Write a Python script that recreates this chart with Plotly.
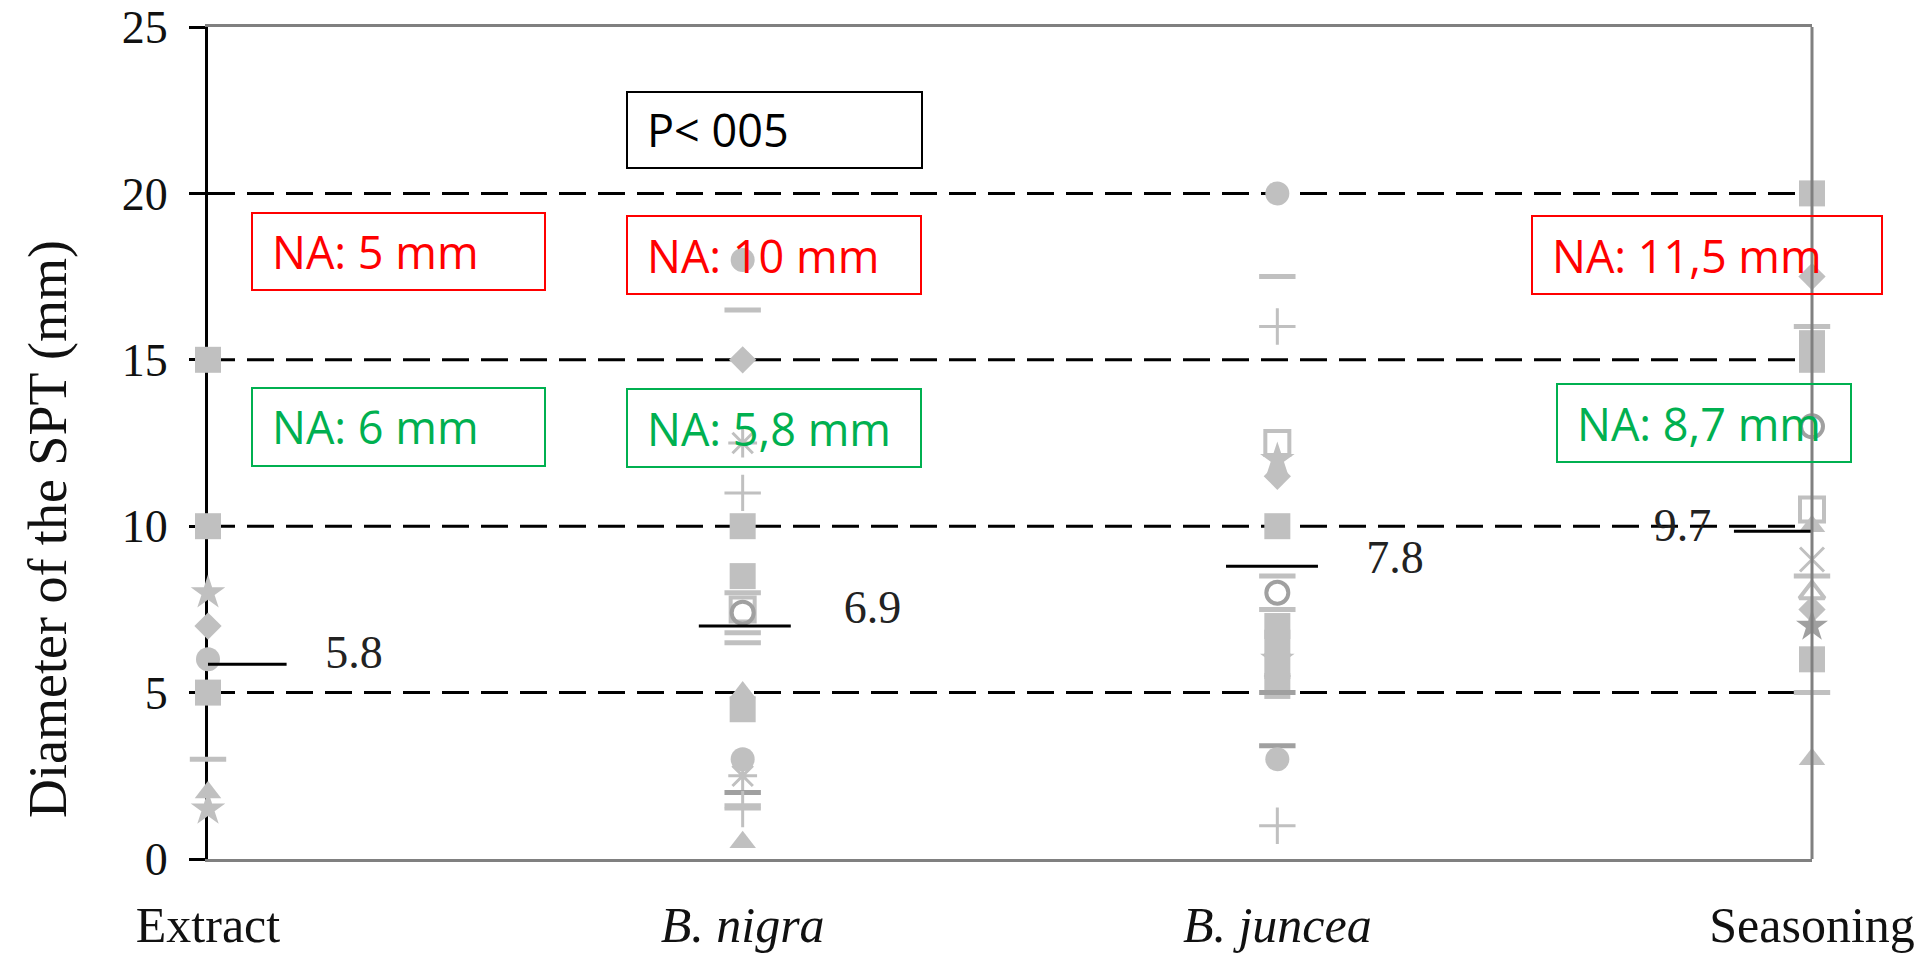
import plotly.graph_objects as go

# ---------------- data ----------------
categories = ["Extract", "B. nigra", "B. juncea", "Seasoning"]
italic_category = [False, True, True, False]

extract_values = [15, 10, 8, 7, 6, 5, 3, 2, 1.5]
extract_markers = ["square", "square", "star", "diamond", "circle", "square", "dash", "triangle", "star"]

nigra_values = [18, 16.5, 15, 12.5, 11, 10, 8.5, 8, 7.5, 7.4, 6.8, 6.5, 5, 4.5, 3, 2.5, 2, 1.6, 1.5, 0.5]
nigra_markers = ["circle", "dash", "diamond", "asterisk", "plus", "square", "square", "dash",
                 "open_square", "open_circle", "dash", "dash", "triangle", "square", "circle_dark",
                 "asterisk", "dash_dark", "dash", "plus", "triangle"]

juncea_values = [20, 17.5, 16, 12.5, 12, 11.5, 10, 8.5, 8, 7.5, 7, 6.5, 6, 5.8, 5.5, 5.2, 5, 3.4, 3, 1]
juncea_markers = ["circle", "dash", "plus", "open_square", "star", "diamond", "square", "dash",
                  "open_circle", "dash", "square", "square", "star", "square", "diamond", "square",
                  "dash_dark", "dash_dark", "circle", "plus"]

seasoning_values = [20, 17.5, 16, 15.5, 15, 13, 10.5, 10, 9, 8.5, 8, 7.5, 7, 6, 5, 3]
seasoning_markers = ["square", "diamond", "dash", "square", "square", "open_circle", "open_square",
                     "triangle", "x", "dash", "open_triangle", "diamond", "star_dark", "square",
                     "dash", "triangle"]

means = [5.85, 7.0, 8.8, 9.85]
mean_labels = ["5.8", "6.9", "7.8", "9.7"]

y_ticks = [0, 5, 10, 15, 20, 25]
grid_values = [5, 10, 15, 20]

y_title = "Diameter of the SPT (mm)"
p_label = "P< 005"
na_red_labels = ["NA: 5 mm", "NA: 10 mm", "NA: 11,5 mm"]
na_green_labels = ["NA: 6 mm", "NA: 5,8 mm", "NA: 8,7 mm"]

# ---------------- styles ----------------
GREY = "#c0c0c0"
DARK = "#a0a0a0"
RED = "#ff0000"
GREEN = "#00b050"
SERIF = "Liberation Serif, Times New Roman, serif"
SANS = "Open Sans, Noto Sans, DejaVu Sans, sans-serif"

# symbol, size, color, line width
STYLE = {
    "square": ("square", 26, GREY, 0),
    "diamond": ("diamond", 21, GREY, 0),
    "circle": ("circle", 24, GREY, 0),
    "circle_dark": ("circle", 24, GREY, 0),
    "triangle": ("triangle-up", 23, GREY, 0),
    "star": ("star", 26, GREY, 0),
    "star_dark": ("star", 24, DARK, 0),
    "dash": ("line-ew", 26, GREY, 5),
    "dash_dark": ("line-ew", 26, DARK, 5),
    "plus": ("cross-thin", 26, GREY, 3),
    "x": ("x-thin", 24, GREY, 3),
    "asterisk": ("asterisk", 24, GREY, 3),
    "open_square": ("square-open", 24, GREY, 4),
    "open_circle": ("circle-open", 22, DARK, 4),
    "open_triangle": ("triangle-up-open", 22, GREY, 4),
}

# pixel layout of the plot area
W, H = 1929, 953
PX0, PX1 = 208, 1812
PY_TOP, PY_BOT = 27, 859


def px(x):
    return (x - PX0) / (PX1 - PX0)


def py(y):
    return (PY_BOT - y) / (PY_BOT - PY_TOP)


fig = go.Figure()

# grid lines (dashed) drawn as shapes at grid values
shapes = []
for g in grid_values:
    shapes.append(dict(type="line", xref="paper", yref="y", x0=0, x1=1, y0=g, y1=g,
                       line=dict(color="black", width=3, dash="27px,12px"), layer="below"))

# markers
all_values = [extract_values, nigra_values, juncea_values, seasoning_values]
all_markers = [extract_markers, nigra_markers, juncea_markers, seasoning_markers]
for i, (vals, mks) in enumerate(zip(all_values, all_markers)):
    sym = [STYLE[m][0] for m in mks]
    size = [STYLE[m][1] for m in mks]
    col = [STYLE[m][2] for m in mks]
    lw = [STYLE[m][3] for m in mks]
    fig.add_trace(go.Scatter(
        x=[i] * len(vals), y=vals, mode="markers", cliponaxis=False, showlegend=False,
        marker=dict(symbol=sym, size=size, color=col, opacity=1,
                    line=dict(width=lw, color=col)),
        hoverinfo="skip"))

# mean lines and labels
line_left = [-0.016, -0.082, -0.096, -0.146]
line_right = [0.147, 0.09, 0.076, 0.024]
label_dx = [0.273, 0.243, 0.22, -0.242]
label_dy = [0.22, 0.43, 0.15, 0.04]
for i, m in enumerate(means):
    fig.add_trace(go.Scatter(x=[i + line_left[i], i + line_right[i]], y=[m, m], mode="lines",
                             line=dict(color="black", width=3), showlegend=False,
                             hoverinfo="skip", cliponaxis=False))
fig.add_trace(go.Scatter(
    x=[i + label_dx[i] for i in range(len(means))],
    y=[m + label_dy[i] for i, m in enumerate(means)],
    text=mean_labels, mode="text", cliponaxis=False, showlegend=False, hoverinfo="skip",
    textfont=dict(family=SERIF, size=46, color="#222222")))

# right border (drawn above markers)
shapes.append(dict(type="line", xref="paper", yref="paper", x0=1, x1=1, y0=0, y1=1,
                   line=dict(color="#808080", width=3), layer="above"))

# annotation boxes: (left, top, right, bottom) pixels
boxes = [
    (627, 92, 922, 168, "black", p_label),
    (252, 213, 545, 290, RED, na_red_labels[0]),
    (627, 216, 921, 294, RED, na_red_labels[1]),
    (1532, 216, 1882, 294, RED, na_red_labels[2]),
    (252, 388, 545, 466, GREEN, na_green_labels[0]),
    (627, 389, 921, 467, GREEN, na_green_labels[1]),
    (1557, 384, 1851, 462, GREEN, na_green_labels[2]),
]
annotations = []
for (l, t, r, b, c, txt) in boxes:
    shapes.append(dict(type="rect", xref="paper", yref="paper",
                       x0=px(l), x1=px(r), y0=py(b), y1=py(t),
                       line=dict(color=c, width=2), fillcolor="rgba(0,0,0,0)", layer="above"))
    annotations.append(dict(xref="paper", yref="paper", x=px(l + 18), y=py((t + b) / 2),
                            xanchor="left", yanchor="middle", text=txt, showarrow=False,
                            font=dict(family=SANS, size=45, color=c)))

# y-axis title
annotations.append(dict(xref="paper", yref="paper", x=px(48), y=py(529), text=y_title,
                        textangle=-90, showarrow=False, xanchor="center", yanchor="middle",
                        font=dict(family=SERIF, size=54, color="#111111")))

ticktext = [f"<i>{c}</i>" if it else c for c, it in zip(categories, italic_category)]

fig.update_layout(
    width=W, height=H,
    margin=dict(l=PX0, r=W - PX1, t=PY_TOP, b=H - PY_BOT, autoexpand=False),
    paper_bgcolor="white", plot_bgcolor="white",
    shapes=shapes, annotations=annotations,
    xaxis=dict(range=[0, 3], tickvals=list(range(len(categories))), ticktext=ticktext,
               showgrid=False, zeroline=False, showline=True, linecolor="#808080", linewidth=3,
               mirror=True, ticks="", ticklabelstandoff=20, layer="below traces",
               automargin=False,
               tickfont=dict(family=SERIF, size=50, color="#111111"), fixedrange=True),
    yaxis=dict(range=[0, 25], tickvals=y_ticks, showgrid=False, zeroline=False, showline=True,
               linecolor="black", linewidth=3, ticks="outside", ticklen=16, tickwidth=3,
               tickcolor="black", ticklabelstandoff=12, layer="below traces",
               automargin=False,
               tickfont=dict(family=SERIF, size=46, color="#111111"), fixedrange=True),
)

fig.write_html("out.html", config={"displayModeBar": False},
               post_script="document.body.style.margin='0';document.body.style.overflow='hidden';")
